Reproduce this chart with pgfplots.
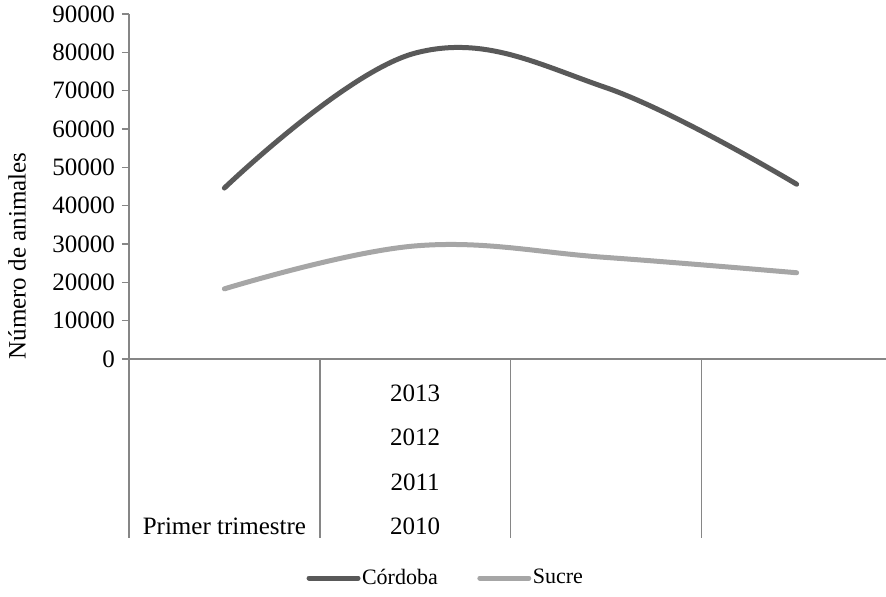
\documentclass[border=0pt]{standalone}
\usepackage{pgfplots}
\pgfplotsset{compat=1.18}
\usepackage{fontspec}
\setmainfont{Liberation Serif}

\definecolor{cordoba}{HTML}{595959}
\definecolor{sucre}{HTML}{A6A6A6}
\definecolor{axisgray}{HTML}{868686}

\begin{document}
\begin{tikzpicture}[font=\fontsize{12.5pt}{15pt}\selectfont]
\begin{axis}[
    at={(0,0)}, anchor=south west,
    scale only axis,
    width=381.5pt, height=172.5pt,
    xmin=0.5, xmax=4.5,
    ymin=0, ymax=90000,
    axis x line=bottom, axis y line=left,
    axis line style={-, axisgray, line width=0.75pt},
    xtick=\empty,
    ytick={0,10000,...,90000},
    scaled y ticks=false,
    yticklabel style={/pgf/number format/fixed, /pgf/number format/1000 sep={}},
    /pgf/number format/assume math mode=true,
    tick align=outside,
    major tick length=3.5pt,
    tick style={axisgray, line width=0.75pt},
    ylabel={Número de animales},
    ylabel style={at={(axis description cs:-0.1468,0.2986)}, anchor=center},
    clip=false,
    legend columns=2,
    legend style={draw=none, fill=none, at={(axis description cs:0.4148,-0.6348)}, anchor=center,
        font=\fontsize{11pt}{13pt}\selectfont,
        /tikz/every even column/.append style={column sep=19pt},
        nodes={inner xsep=0.75pt, inner ysep=1.5pt}},
    legend image code/.code={\draw[#1] (0pt,0pt) -- (24.5pt,0pt);},
]
\addplot[smooth, tension=0.65, color=cordoba, line width=2.5pt, line cap=round]
    coordinates {(1,44600)(2,79800)(3,70800)(4,45600)};
\addlegendentry{Córdoba}
\addplot[smooth, tension=0.65, color=sucre, line width=2.5pt, line cap=round]
    coordinates {(1,18300)(2,29500)(3,26500)(4,22500)};
\addlegendentry{Sucre}

% category separators below the axis
\draw[axisgray, line width=0.75pt] (axis cs:0.5,0) -- ++(0pt,-89.5pt);
\draw[axisgray, line width=0.75pt] (axis cs:1.5,0) -- ++(0pt,-89.5pt);
\draw[axisgray, line width=0.75pt] (axis cs:2.5,0) -- ++(0pt,-89.5pt);
\draw[axisgray, line width=0.75pt] (axis cs:3.5,0) -- ++(0pt,-89.5pt);
\draw[axisgray, line width=0.75pt] (axis cs:4.5,0) -- ++(0pt,-89.5pt);

% category labels
\node at ([yshift=-83.5pt]axis cs:1,0) {Primer trimestre};
\node at ([yshift=-83.5pt]axis cs:2,0) {2010};
\node at ([yshift=-61.5pt]axis cs:2,0) {2011};
\node at ([yshift=-39pt]axis cs:2,0) {2012};
\node at ([yshift=-17pt]axis cs:2,0) {2013};
\end{axis}
\pgfresetboundingbox
\path (-64.5pt,-118.5pt) rectangle (378.5pt,179.5pt);
\end{tikzpicture}
\end{document}
